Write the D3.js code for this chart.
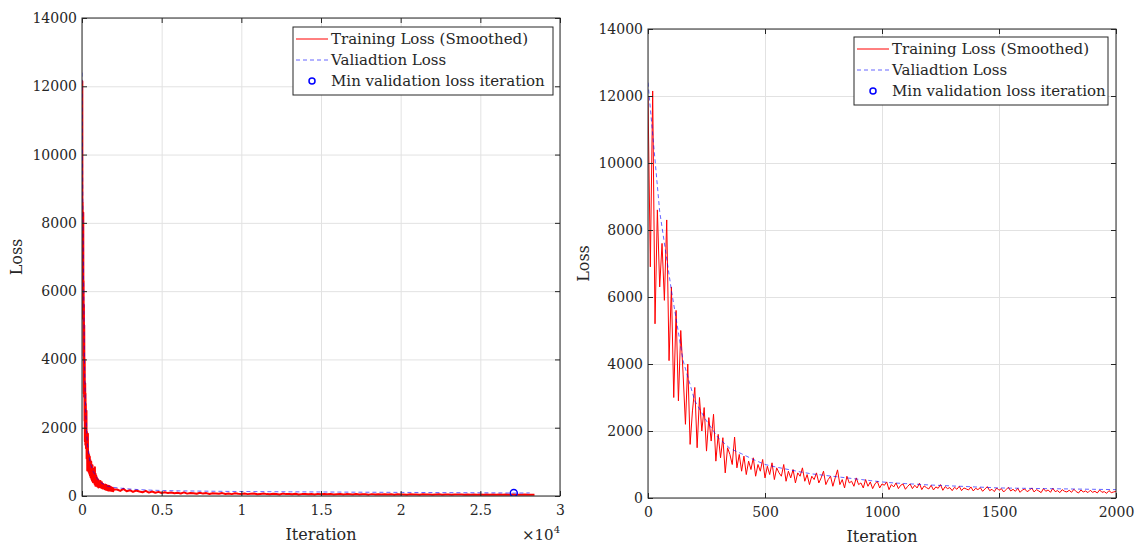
<!DOCTYPE html>
<html>
<head>
<meta charset="utf-8">
<script src="https://cdn.jsdelivr.net/npm/d3@7/dist/d3.min.js"></script>
<style>
body { margin: 0; background: #fff; }
svg text { font-family: "DejaVu Serif", serif; }
</style>
</head>
<body>
<div id="chart"></div>
<script>
// training loss, every 10 iterations up to 2000
const trainIterDense = d3.range(0, 2001, 10)
const trainLossDense = [
    12000, 6900, 12150, 5200, 8600, 6300, 7600, 5900, 8300, 4100, 6300,
    3000, 5600, 2900, 5000, 3700, 2200, 4000, 1600, 2600, 3300,
    1500, 3000, 2000, 2700, 1400, 2400, 1700, 2500, 1100, 1900,
    1200, 1800, 750, 1500, 1300, 1000, 1820, 900, 1300, 800,
    1250, 700, 1100, 850, 1200, 650, 1000, 800, 1150, 600,
    950, 700, 1050, 550, 900, 750, 650, 1000, 500, 800,
    600, 850, 450, 750, 650, 900, 500, 700, 400, 650,
    550, 750, 450, 600, 800, 400, 550, 650, 350, 600,
    840, 400, 550, 300, 650, 450, 500, 350, 600, 400,
    450, 300, 550, 350, 480, 280, 420, 500, 300, 420,
    380, 480, 250, 400, 330, 450, 280, 380, 420, 260,
    350, 420, 280, 380, 300, 440, 250, 360, 310, 270,
    380, 240, 330, 290, 400, 230, 340, 280, 310, 220,
    320, 260, 350, 220, 300, 270, 240, 330, 210, 290,
    250, 310, 200, 270, 340, 220, 260, 190, 300, 230,
    280, 180, 250, 320, 210, 260, 200, 290, 170, 240,
    270, 190, 230, 300, 180, 250, 210, 160, 280, 200,
    240, 170, 290, 190, 220, 160, 250, 200, 180, 230,
    170, 260, 190, 150, 240, 180, 210, 160, 230, 170,
    200, 150, 240, 170, 190, 140, 220, 160, 180, 200
]
// rest of the run, every 200 iterations
const trainIterTail = d3.range(2200, 28401, 200)
const trainLossTail = [
    190, 150, 210, 140, 170, 120, 160, 130, 110, 150, 100, 130, 95, 120, 90,
    110, 85, 100, 80, 95, 75, 105, 70, 90, 80, 65, 95, 70, 85, 60, 80, 75, 65, 85, 60, 75, 55, 80, 65, 60,
    70, 55, 65, 75, 50, 60, 70, 55, 50, 65, 60, 45, 70, 55, 60, 50, 65, 45, 55, 60, 50, 58, 45, 62, 50,
    55, 48, 60, 45, 52, 58, 42, 55, 50, 47, 56, 44, 52, 48, 40, 55, 46, 50, 42, 53, 45, 48, 40, 50, 44,
    47, 40, 52, 43, 45, 38, 50, 42, 46, 40, 44, 48, 38, 45, 42, 36, 47, 41, 44, 38, 43, 40, 46, 37, 42,
    40, 44, 36, 42, 39, 45, 35, 41, 38, 43, 37, 40, 34, 42, 38, 36, 40
]

const valIter = d3.range(0, 2001, 50).concat(d3.range(3100, 28101, 1000))
const valLoss = [
    12400, 8550, 6200, 4100, 2900, 2300, 1800, 1480, 1320, 1150,
    1000, 920, 850, 780, 720, 680, 640, 600, 560, 520,
    480, 450, 430, 410, 390, 375, 360, 345, 330, 315,
    300, 295, 290, 285, 280, 275, 270, 265, 260, 255, 250,
    200, 175, 160, 150, 145, 140, 135, 130, 128, 125, 122, 120, 118,
    115, 112, 110, 108, 105, 103, 100, 98, 96, 94, 92, 85, 90
]

const yTicks = [0, 2000, 4000, 6000, 8000, 10000, 12000, 14000]
const xTicksLeft = [0, 5000, 10000, 15000, 20000, 25000, 30000]
const xTicksRight = [0, 500, 1000, 1500, 2000]
const legendLabels = ["Training Loss (Smoothed)", "Valiadtion Loss", "Min validation loss iteration"]

const WIDTH = 1137
const HEIGHT = 547
const AXIS = "#262626"

const train = trainIterDense.map((it, i) => ({ it, loss: trainLossDense[i] }))
    .concat(trainIterTail.map((it, i) => ({ it, loss: trainLossTail[i] })))
const val = valIter.map((it, i) => ({ it, loss: valLoss[i] }))
const best = val[d3.minIndex(val, d => d.loss)]

const svg = d3.select("#chart")
    .append("svg")
    .attr("width", WIDTH)
    .attr("height", HEIGHT)

function panel(cfg) {
    const w = cfg.x1 - cfg.x0
    const h = cfg.y1 - cfg.y0
    const g = svg.append("g").attr("transform", `translate(${cfg.x0}, ${cfg.y0})`)

    const x = d3.scaleLinear().domain([0, cfg.xMax]).range([0, w])
    const y = d3.scaleLinear().domain([0, 14000]).range([h, 0])

    // grid
    g.append("g")
        .attr("transform", `translate(0, ${h})`)
        .call(d3.axisBottom(x).tickValues(cfg.xTicks).tickSize(-h).tickFormat(""))
        .call(a => a.select(".domain").remove())
        .call(a => a.selectAll("line").attr("stroke", "#e2e2e2"))
    g.append("g")
        .call(d3.axisLeft(y).tickValues(yTicks).tickSize(-w).tickFormat(""))
        .call(a => a.select(".domain").remove())
        .call(a => a.selectAll("line").attr("stroke", "#e2e2e2"))

    const clipId = "clip" + cfg.id
    g.append("clipPath").attr("id", clipId)
        .append("rect").attr("width", w).attr("height", h)

    const data = g.append("g").attr("clip-path", `url(#${clipId})`)
    const line = d3.line().x(d => x(d.it)).y(d => y(d.loss))

    data.append("path")
        .datum(train)
        .attr("d", line)
        .attr("fill", "none")
        .attr("stroke", "#ff0000")
        .attr("stroke-width", cfg.trainWidth)
        .attr("stroke-linejoin", "round")

    data.append("path")
        .datum(val)
        .attr("d", line)
        .attr("fill", "none")
        .attr("stroke", "#0000ff")
        .attr("stroke-opacity", 0.6)
        .attr("stroke-dasharray", "4,3")
        .attr("stroke-width", 1)

    data.append("circle")
        .attr("cx", x(best.it))
        .attr("cy", y(best.loss))
        .attr("r", 3.5)
        .attr("fill", "none")
        .attr("stroke", "#0000ff")
        .attr("stroke-width", 1.5)

    // axes, ticks pointing inward on all four sides
    const xb = g.append("g")
        .attr("transform", `translate(0, ${h})`)
        .call(d3.axisBottom(x).tickValues(cfg.xTicks).tickSize(-5).tickPadding(9).tickFormat(cfg.fmt))
    const yl = g.append("g")
        .call(d3.axisLeft(y).tickValues(yTicks).tickSize(-5).tickPadding(5).tickFormat(d3.format("d")))
    g.append("g")
        .call(d3.axisTop(x).tickValues(cfg.xTicks).tickSize(-5).tickFormat(""))
    g.append("g")
        .attr("transform", `translate(${w}, 0)`)
        .call(d3.axisRight(y).tickValues(yTicks).tickSize(-5).tickFormat(""))

    g.selectAll(".domain").remove()
    g.selectAll("g").attr("font-family", null).attr("font-size", null)
    g.selectAll(".tick line").filter(function () {
        return ["5", "-5"].includes(this.getAttribute("y2")) || ["5", "-5"].includes(this.getAttribute("x2"))
    }).attr("stroke", AXIS)
    xb.selectAll("text").style("font-size", "14px").attr("fill", AXIS)
    yl.selectAll("text").style("font-size", "14px").attr("fill", AXIS)

    g.append("rect")
        .attr("width", w).attr("height", h)
        .attr("fill", "none")
        .attr("stroke", AXIS)
        .attr("stroke-width", 1)

    g.append("text")
        .attr("x", w / 2)
        .attr("y", h + 44)
        .attr("text-anchor", "middle")
        .attr("fill", AXIS)
        .style("font-size", "16px")
        .text("Iteration")

    g.append("text")
        .attr("transform", `translate(${cfg.labelX}, ${h / 2}) rotate(-90)`)
        .attr("text-anchor", "middle")
        .attr("fill", AXIS)
        .style("font-size", "16px")
        .text("Loss")

    if (cfg.exponent) {
        const t = g.append("text")
            .attr("x", w)
            .attr("y", h + 44)
            .attr("text-anchor", "end")
            .attr("fill", AXIS)
            .style("font-size", "15px")
        t.append("tspan").text("×10")
        t.append("tspan").attr("dy", -7).style("font-size", "10px").text("4")
    }

    // legend
    const L = cfg.legend
    const lg = g.append("g").attr("transform", `translate(${L.x - cfg.x0}, ${L.y - cfg.y0})`)
    lg.append("rect")
        .attr("width", L.w).attr("height", 68)
        .attr("fill", "#fff")
        .attr("stroke", AXIS)
        .attr("stroke-width", 1)
    legendLabels.forEach((label, i) => {
        const cy = 12 + i * 21
        if (i === 0) {
            lg.append("line").attr("x1", 3).attr("x2", 35).attr("y1", cy).attr("y2", cy)
                .attr("stroke", "#ff0000")
        } else if (i === 1) {
            lg.append("line").attr("x1", 3).attr("x2", 35).attr("y1", cy).attr("y2", cy)
                .attr("stroke", "#0000ff").attr("stroke-opacity", 0.6)
                .attr("stroke-dasharray", "4,3")
        } else {
            lg.append("circle").attr("cx", 19).attr("cy", cy).attr("r", 3)
                .attr("fill", "none").attr("stroke", "#0000ff").attr("stroke-width", 1.5)
        }
        lg.append("text")
            .attr("x", 38)
            .attr("y", cy + 5)
            .attr("fill", AXIS)
            .style("font-size", "15px")
            .text(label)
    })
}

panel({
    id: "left", x0: 82, x1: 560, y0: 18, y1: 496,
    xMax: 30000, xTicks: xTicksLeft, fmt: d => String(d / 1e4),
    labelX: -60, exponent: true, trainWidth: 2,
    legend: { x: 293, y: 27, w: 260 }
})

panel({
    id: "right", x0: 648, x1: 1116, y0: 29, y1: 498,
    xMax: 2000, xTicks: xTicksRight, fmt: d => String(d),
    labelX: -59, exponent: false, trainWidth: 1,
    legend: { x: 854, y: 37, w: 254 }
})
</script>
</body>
</html>
